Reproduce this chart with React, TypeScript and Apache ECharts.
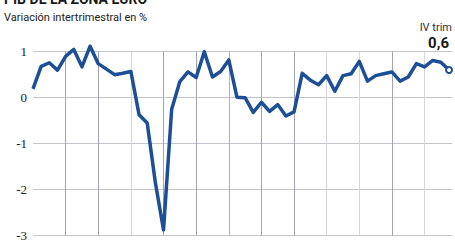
import React, { useEffect, useRef } from "react";
import * as echarts from "echarts";

// Quarterly GDP change, euro area, 2005 T1 .. 2017 T4 (52 quarters)
const years = ["2005", "2006", "2007", "2008", "2009", "2010", "2011", "2012", "2013", "2014", "2015", "2016", "2017"];
const quarters = ["T1", "T2", "T3", "T4"];
const values = [
  0.19, 0.68, 0.76, 0.6,
  0.9, 1.05, 0.67, 1.12,
  0.74, 0.62, 0.5, 0.53,
  0.57, -0.37, -0.55, -1.85,
  -2.88, -0.25, 0.35, 0.56,
  0.44, 1.0, 0.45, 0.57,
  0.82, 0.01, 0.0, -0.32,
  -0.1, -0.3, -0.15, -0.4,
  -0.31, 0.53, 0.38, 0.28,
  0.48, 0.14, 0.48, 0.52,
  0.79, 0.36, 0.48, 0.52,
  0.56, 0.36, 0.45, 0.74,
  0.67, 0.81, 0.77, 0.6,
];
const yTicks = [1, 0, -1, -2, -3];
const titleText = "PIB DE LA ZONA EURO";
const subtitleText = "Variación intertrimestral en %";
const lastLabel = "IV trim";
const lastValue = "0,6";

const categories = years.flatMap((y) => quarters.map((q) => `${y} ${q}`));

export default function App() {
  const ref = useRef<HTMLDivElement>(null);
  useEffect(() => {
    if (!ref.current) return;
    const chart = echarts.init(ref.current, undefined, { renderer: "svg" });
    const data = values.map((v, i) => [i, v]);
    const last = values.length - 1;
    chart.setOption({
      animation: false,
      backgroundColor: "#ffffff",
      grid: { left: 33, right: 2.7, top: 51.7, bottom: 5.1, containLabel: false },
      xAxis: {
        type: "value",
        min: 0,
        max: 51.4,
        interval: 4,
        axisLine: { show: false },
        axisTick: { show: false },
        axisLabel: { show: false },
        splitLine: {
          show: true,
          showMinLine: false,
          showMaxLine: false,
          lineStyle: {
            width: 1,
            color: ["#a3a3b5", "#a3a3b5", "#d6d6de", "#a3a3b5", "#a3a3b5", "#b0b0c0", "#a3a3b5", "#a3a3b5", "#d6d6de", "#d6d6de", "#a3a3b5", "#d6d6de"],
          },
        },
      },
      yAxis: {
        type: "value",
        min: yTicks[yTicks.length - 1],
        max: yTicks[0],
        interval: 1,
        axisLine: { show: false },
        axisTick: { show: false },
        axisLabel: {
          margin: 6,
          color: "#222",
          fontFamily: "Liberation Serif",
          fontSize: 13,
        },
        splitLine: { show: true, lineStyle: { color: "#c4c4cc", width: 1 } },
      },
      series: [
        {
          type: "line",
          name: "PIB",
          data: data,
          clip: false,
          smooth: false,
          lineStyle: { color: "#1d4f96", width: 3.5, join: "round" },
          symbol: (_v: any, p: any) => (p.dataIndex === last ? "circle" : "none"),
          symbolSize: 6,
          showSymbol: true,
          itemStyle: { color: "#ffffff", borderColor: "#1d4f96", borderWidth: 2 },
        },
      ],
      graphic: [
        {
          type: "text",
          left: 4,
          top: -8,
          style: { text: titleText, font: "bold 14px Roboto", fill: "#1a1a1a" },
        },
        {
          type: "text",
          left: 4,
          top: 12,
          style: { text: subtitleText, font: "11px Roboto", fill: "#222" },
        },
        {
          type: "text",
          right: 3,
          top: 22,
          style: { text: lastLabel, font: "11px Roboto", fill: "#333" },
        },
        {
          type: "text",
          right: 6,
          top: 35,
          style: { text: lastValue, font: "bold 15px Roboto", fill: "#1a1a1a" },
        },
      ],
    });
    return () => chart.dispose();
  }, []);
  return (
    <div
      ref={ref}
      data-categories={categories.length}
      style={{ position: "absolute", left: 0, top: 0, width: 455, height: 242 }}
    />
  );
}
